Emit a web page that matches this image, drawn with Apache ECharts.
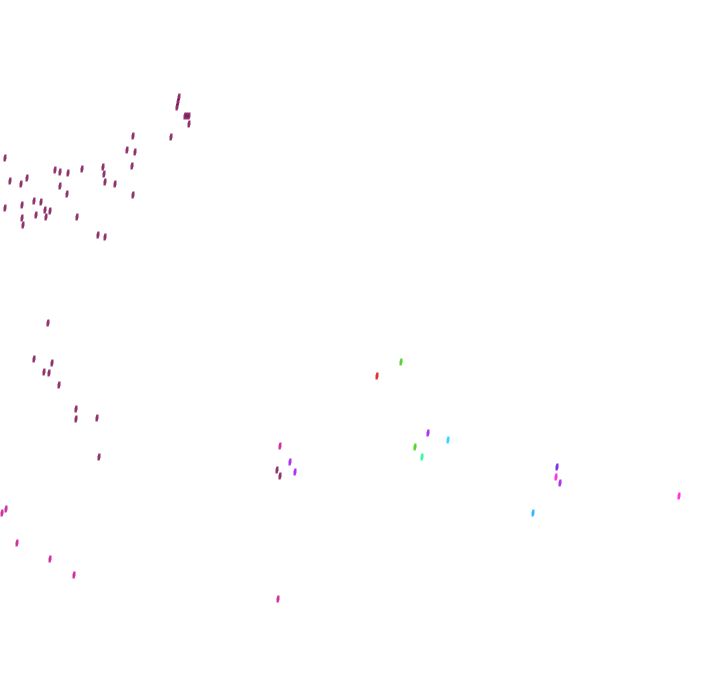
<!DOCTYPE html>
<html><head><meta charset="utf-8">
<script src="https://cdn.jsdelivr.net/npm/echarts@6/dist/echarts.min.js"></script>
<style>html,body{margin:0;padding:0;background:#fff}#c{width:720px;height:692px}</style>
</head><body><div id="c"></div>
<script>
const maroonPts = [[179,97],[178,102],[177,107],[185,116],[187,116],[189,116],[189,124],[171,137],[133,136],[127,150],[135,152],[132,166],[5,158],[103,167],[104,174],[105,182],[115,184],[82,169],[55,170],[60,172],[68,173],[10,181],[21,184],[27,178],[60,186],[67,194],[133,195],[5,208],[22,205],[34,201],[41,202],[22,218],[23,225],[36,215],[45,210],[50,211],[46,217],[77,217],[98,235],[105,237],[48,323],[34,359],[52,363],[44,372],[49,373],[59,385],[76,409],[76,419],[97,418],[99,457],[277,470],[280,476]];
const magentaPts = [[6,509],[2,513],[17,543],[50,559],[74,575],[280,446],[278,599]];
const pinkPts = [[556,477],[679,496]];
const purplePts = [[290,462],[295,472],[428,433],[560,483]];
const violetPts = [[557,467]];
const bluePts = [[533,513]];
const cyanPts = [[448,440]];
const greenPts = [[401,362],[415,447]];
const springPts = [[422,457]];
const redPts = [[377,376]];

const groups = [
  [maroonPts,'#760048'],[magentaPts,'#c4008a'],[pinkPts,'#ff00d8'],[purplePts,'#9a00f0'],
  [violetPts,'#5a00e0'],[bluePts,'#00a8ff'],[cyanPts,'#00d0ff'],[greenPts,'#30c800'],
  [springPts,'#00ff88'],[redPts,'#d00000']
];
const sym = 'path://M1,0 L3,0 L3,4 L2,7 L0,7 L0,3 Z';
const chart = echarts.init(document.getElementById('c'));
chart.setOption({
  animation:false,
  grid:{left:0,right:0,top:0,bottom:0},
  xAxis:{type:'value',min:0,max:720,show:false},
  yAxis:{type:'value',min:0,max:692,inverse:true,show:false},
  series: groups.map(g=>({type:'scatter',data:g[0],symbol:sym,symbolSize:[3,7],itemStyle:{color:g[1]}}))
});
</script></body></html>
